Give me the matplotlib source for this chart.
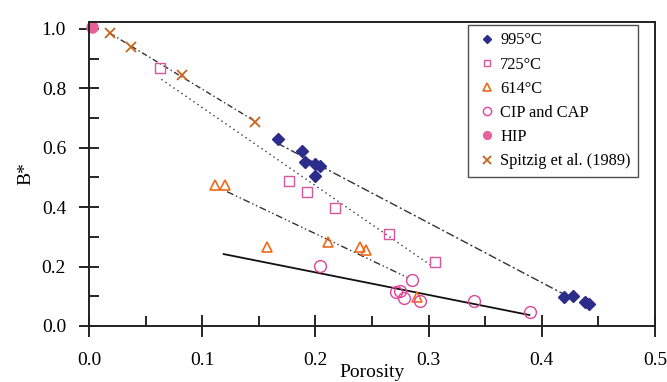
import matplotlib.pyplot as plt
from matplotlib.ticker import MultipleLocator

# -----------------------------
# Data
# -----------------------------
p995 = [0.167, 0.188, 0.191, 0.200, 0.204, 0.200, 0.420, 0.428, 0.438, 0.442]
b995 = [0.628, 0.589, 0.553, 0.544, 0.540, 0.506, 0.099, 0.101, 0.082, 0.074]

p725 = [0.063, 0.177, 0.193, 0.217, 0.265, 0.306]
b725 = [0.868, 0.488, 0.452, 0.396, 0.309, 0.217]

p614 = [0.111, 0.120, 0.157, 0.211, 0.239, 0.245, 0.290]
b614 = [0.475, 0.475, 0.267, 0.282, 0.265, 0.256, 0.099]

p_cip = [0.204, 0.285, 0.271, 0.275, 0.278, 0.292, 0.340, 0.390]
b_cip = [0.202, 0.155, 0.116, 0.118, 0.093, 0.084, 0.084, 0.048]

p_hip = [0.003]
b_hip = [1.007]

p_spitzig = [0.0186, 0.037, 0.082, 0.147]
b_spitzig = [0.985, 0.940, 0.845, 0.685]

# fit lines (end points)
fit995_p = [0.166, 0.418]
fit995_b = [0.616, 0.110]
fit725_p = [0.064, 0.304]
fit725_b = [0.830, 0.199]
fit614_p = [0.122, 0.282]
fit614_b = [0.452, 0.162]
fitcip_p = [0.119, 0.389]
fitcip_b = [0.242, 0.037]
fitsp_p = [0.0186, 0.145]
fitsp_b = [0.985, 0.693]

# -----------------------------
# Figure
# -----------------------------
plt.rcParams["font.family"] = ["Liberation Serif", "DejaVu Serif"]

fig = plt.figure(figsize=(6.67, 3.82), dpi=100)
ax = fig.add_axes([0.1334, 0.1466, 0.8486, 0.7958])

line_col = "#333333"
ax.plot(fitsp_p, fitsp_b, color=line_col, lw=1.0, dashes=[4, 2, 1, 2])
ax.plot(fit995_p, fit995_b, color=line_col, lw=1.0, dashes=[6, 2, 1.5, 2])
ax.plot(fit725_p, fit725_b, color=line_col, lw=1.0, dashes=[1, 2.5])
ax.plot(fit614_p, fit614_b, color=line_col, lw=1.0, dashes=[5, 2, 1, 2, 1, 2])
ax.plot(fitcip_p, fitcip_b, color="#111111", lw=1.3)

ax.plot(p995, b995, ls="none", marker="D", ms=6.5, color="#2c2c8a",
        mec="#2c2c8a", label="995°C")
ax.plot(p725, b725, ls="none", marker="s", ms=7, mfc="none",
        mec="#d9559c", mew=1.0, label="725°C")
ax.plot(p614, b614, ls="none", marker="^", ms=7.5, mfc="none",
        mec="#ee6a1a", mew=1.2, label="614°C")
ax.plot(p_cip, b_cip, ls="none", marker="o", ms=8.5, mfc="none",
        mec="#e0449a", mew=1.0, label="CIP and CAP")
ax.plot(p_hip, b_hip, ls="none", marker="o", ms=8, color="#e8609a",
        label="HIP", clip_on=False)
ax.plot(p_spitzig, b_spitzig, ls="none", marker="x", ms=7.5, mew=1.3,
        color="#c8641e", label="Spitzig et al. (1989)")

# -----------------------------
# Axes formatting
# -----------------------------
ax.set_xlim(0, 0.5)
ax.set_ylim(0, 1.023)
ax.xaxis.set_major_locator(MultipleLocator(0.1))
ax.xaxis.set_minor_locator(MultipleLocator(0.05))
ax.yaxis.set_major_locator(MultipleLocator(0.2))
ax.yaxis.set_minor_locator(MultipleLocator(0.1))
ax.xaxis.set_major_formatter(plt.FuncFormatter(lambda v, _: f"{v:.1f}"))
ax.yaxis.set_major_formatter(plt.FuncFormatter(lambda v, _: f"{v:.1f}"))

ax.tick_params(axis="x", which="major", direction="inout", length=16,
               width=1.2, pad=11, labelsize=14)
ax.tick_params(axis="y", which="major", direction="inout", length=15,
               width=1.2, pad=9, labelsize=14)
ax.tick_params(which="minor", direction="in", length=7, width=1.2)

for s in ax.spines.values():
    s.set_linewidth(1.4)
    s.set_color("#222222")

ax.set_xlabel("Porosity", fontsize=14, labelpad=-4)
ax.set_ylabel("B*", fontsize=14, labelpad=5)

leg = ax.legend(
    loc="upper right",
    bbox_to_anchor=(0.970, 0.990),
    prop={"size": 11.8},
    frameon=True,
    fancybox=False,
    handlelength=1.4,
    handletextpad=0.1,
    borderpad=0.45,
    labelspacing=0.5,
    borderaxespad=0,
    markerscale=0.7,
)
leg.get_frame().set_edgecolor("#222222")
leg.get_frame().set_linewidth(1.0)

fig.savefig("out.png", dpi=100)
